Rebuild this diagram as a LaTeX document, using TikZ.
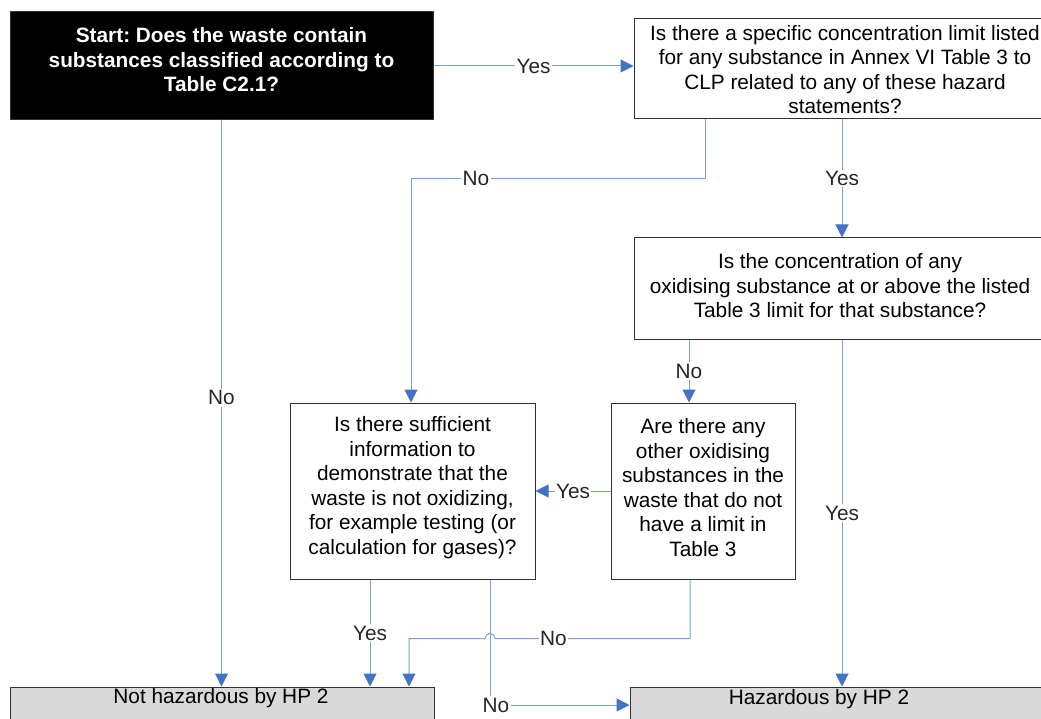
\documentclass[tikz,border=0pt]{standalone}
\usepackage{fontspec}
\setmainfont{Liberation Sans}
\usetikzlibrary{arrows.meta,calc}
\definecolor{linecol}{RGB}{120,160,220}
\definecolor{arrowcol}{RGB}{68,114,196}
\definecolor{boxline}{RGB}{50,50,50}
\definecolor{greyfill}{RGB}{217,217,217}
\tikzset{
  box/.style={draw=boxline,line width=1pt,rectangle,inner sep=0pt},
  txt/.style={align=center,inner sep=0pt,font=\fontsize{20.8}{24.5}\selectfont\frenchspacing},
  conn/.style={draw=linecol,line width=1pt},
  arr/.style={conn,-{Triangle[length=13pt,width=13pt,color=arrowcol]}},
  lbl/.style={fill=white,inner sep=1.5pt,font=\fontsize{20.8}{24}\selectfont,text=black!85}
}
\begin{document}
\frenchspacing
\begin{tikzpicture}[x=1pt,y=-1pt]
\useasboundingbox (0,0) rectangle (1041,719);
\clip (0,0) rectangle (1041,719);
\fill[white] (0,0) rectangle (1041,719);
% boxes
\node[box,fill=black,minimum width=423pt,minimum height=108pt] (start) at (221.5,66) {};
\node[txt,text=white,font=\fontsize{20.8}{24.5}\selectfont\bfseries\frenchspacing] (startt) at (221.5,60) {Start: Does the waste contain\\substances classified according to\\Table C2.1?};
\node[box,fill=white,minimum width=422pt,minimum height=100pt] (qa) at (845,69) {};
\node[txt] (qat) at (845,69.5) {Is there a specific concentration limit listed\\for any substance in Annex VI Table 3 to\\CLP related to any of these hazard\\statements?};
\node[box,fill=white,minimum width=422pt,minimum height=101pt] (qb) at (845,288.5) {};
\node[txt] (qbt) at (840,286) {Is the concentration of any\\oxidising substance at or above the listed\\Table 3 limit for that substance?};
\node[box,fill=white,minimum width=245pt,minimum height=176pt] (qc) at (412.5,491) {};
\node[txt] (qct) at (412.5,487.5) {Is there sufficient\\information to\\demonstrate that the\\waste is not oxidizing,\\for example testing (or\\calculation for gases)?};
\node[box,fill=white,minimum width=184pt,minimum height=176pt] (qd) at (703,491) {};
\node[txt] (qdt) at (703,487.5) {Are there any\\other oxidising\\substances in the\\waste that do not\\have a limit in\\Table 3};
\node[box,fill=greyfill,minimum width=424pt,minimum height=53pt] (nh) at (222,713.5) {};
\node[txt] (nht) at (221,698) {Not hazardous by HP 2};
\node[box,fill=greyfill,minimum width=430pt,minimum height=53pt] (hz) at (845,713.5) {};
\node[txt] (hzt) at (819,699) {Hazardous by HP 2};
% connectors
\draw[arr] (start.east) -- node[lbl]{Yes} (start.east -| qa.west);
\draw[arr] ([xshift=-3pt]qa.south) -- node[lbl]{Yes} ([xshift=-3pt]qb.north);
\draw[arr] ([xshift=72pt]qa.south west) -- ++(0,59) -| node[lbl,pos=0.39]{No} ([xshift=-1.5pt]qc.north);
\draw[arr] ([xshift=-14pt]qd.north |- qb.south) -- node[lbl]{No} ([xshift=-14pt]qd.north);
\draw[arr] ([xshift=-3pt]qb.south) -- node[lbl]{Yes} ([xshift=-3pt]qb.south |- hz.north);
\draw[arr] (qd.west) -- node[lbl]{Yes} (qc.east);
\draw[arr] ([xshift=-42.5pt]qc.south) -- node[lbl]{Yes} ([xshift=-42.5pt]qc.south |- nh.north);
\draw[arr] ([xshift=77.5pt]qc.south) |- node[lbl,pos=0.5,xshift=6pt]{No} ([yshift=8.5pt]hz.west);
\draw[arr] ([xshift=-13pt]qd.south) -- ++(0,59) -- node[lbl,pos=0.7]{No} ++(-195,0) arc[start angle=0,end angle=180,radius=5pt] -| ([xshift=187pt]nh.north);
\draw[arr] (start.south) -- node[lbl,pos=0.49]{No} (start.south |- nh.north);
\end{tikzpicture}
\end{document}
